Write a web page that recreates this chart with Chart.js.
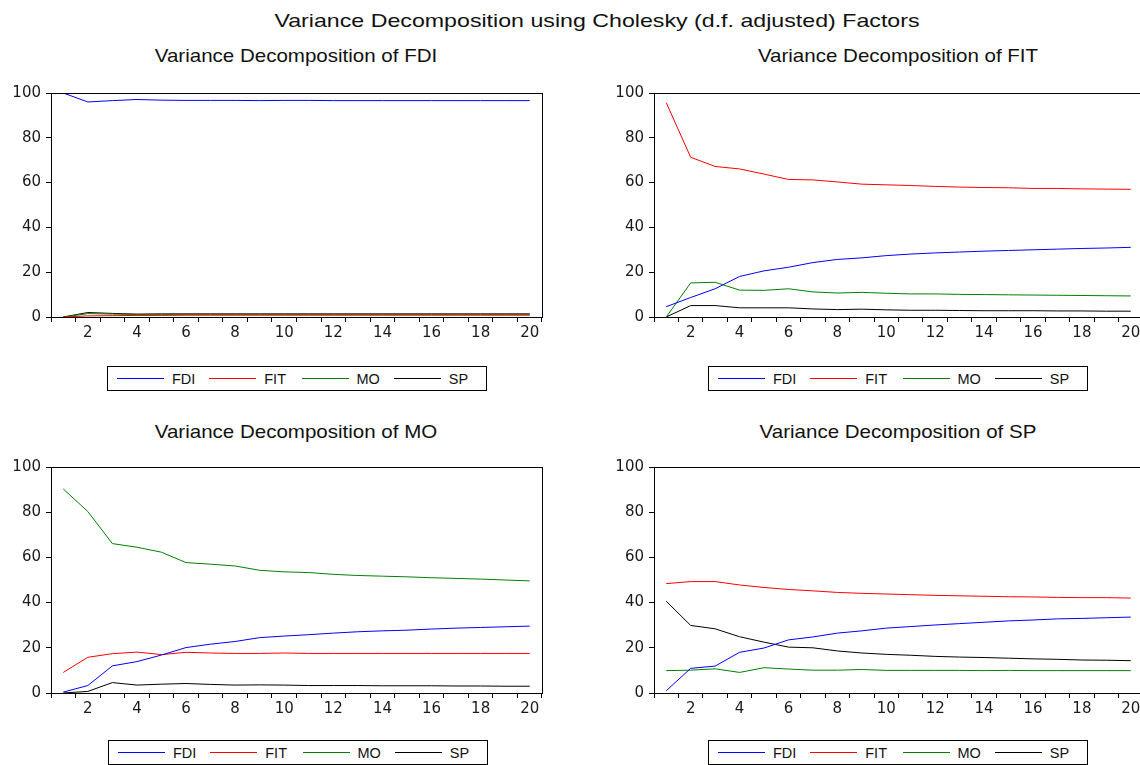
<!DOCTYPE html>
<html>
<head>
<meta charset="utf-8">
<script src="https://cdn.jsdelivr.net/npm/chart.js@4.4.1/dist/chart.umd.min.js"></script>
<style>
  html, body { margin: 0; padding: 0; background: #fff; }
  body { width: 1140px; height: 765px; position: relative; overflow: hidden; font-family: "Liberation Sans", Arial, sans-serif; color: #111; }
  .title { position: absolute; white-space: nowrap; line-height: 1; }
  .main { font-size: 19px; top: 11px; left: 597px; transform: translateX(-50%) scaleX(1.22); }
  .sub { font-size: 19px; transform: translateX(-50%) scaleX(1.08); }
  canvas { position: absolute; }
  .legend { position: absolute; width: 380px; height: 25px; border: 1px solid #000; box-sizing: border-box; display: flex; align-items: center; padding-left: 9px; font-size: 14.5px; }
  .legend .item { display: flex; align-items: center; width: 94px; }
  .legend .swatch { width: 47px; height: 0; border-top: 1px solid; margin-right: 8px; }
</style>
</head>
<body>
<div class="title main">Variance Decomposition using Cholesky (d.f. adjusted) Factors</div>
<div class="title sub" style="left:296px; top:46px;">Variance Decomposition of FDI</div>
<div class="title sub" style="left:898px; top:46px;">Variance Decomposition of FIT</div>
<div class="title sub" style="left:296px; top:422px;">Variance Decomposition of MO</div>
<div class="title sub" style="left:898px; top:422px;">Variance Decomposition of SP</div>

<canvas id="chartFDI" width="560" height="270" style="left:0px; top:79px;"></canvas>
<canvas id="chartFIT" width="540" height="270" style="left:604px; top:79px;"></canvas>
<canvas id="chartMO" width="560" height="272" style="left:0px; top:453px;"></canvas>
<canvas id="chartSP" width="540" height="272" style="left:604px; top:453px;"></canvas>

<div class="legend" id="legFDI" style="left:107px; top:366px;"></div>
<div class="legend" id="legFIT" style="left:708px; top:366px;"></div>
<div class="legend" id="legMO" style="left:108px; top:740px;"></div>
<div class="legend" id="legSP" style="left:708px; top:740px;"></div>

<script>
// periods 1..20
const periods = [1, 2, 3, 4, 5, 6, 7, 8, 9, 10, 11, 12, 13, 14, 15, 16, 17, 18, 19, 20];
const seriesNames = ["FDI", "FIT", "MO", "SP"];
const seriesColors = ["#0000ff", "#ff0000", "#008000", "#000000"];
const yTicks = [0, 20, 40, 60, 80, 100];

// Variance decomposition of FDI
const fdiByFDI = [100, 96.0, 96.6, 97.1, 96.8, 96.7, 96.7, 96.7, 96.6, 96.7, 96.7, 96.6, 96.6, 96.6, 96.6, 96.6, 96.6, 96.6, 96.6, 96.6];
const fdiByFIT = [0, 0.5, 0.6, 0.7, 0.7, 0.8, 0.8, 0.8, 0.8, 0.8, 0.8, 0.8, 0.8, 0.8, 0.8, 0.8, 0.8, 0.8, 0.8, 0.8];
const fdiByMO = [0, 1.5, 1.3, 1.1, 1.2, 1.2, 1.2, 1.2, 1.2, 1.2, 1.2, 1.2, 1.2, 1.2, 1.2, 1.2, 1.2, 1.2, 1.2, 1.2];
const fdiBySP = [0, 2.0, 1.6, 1.3, 1.4, 1.4, 1.4, 1.4, 1.4, 1.4, 1.4, 1.4, 1.4, 1.4, 1.4, 1.4, 1.4, 1.4, 1.4, 1.4];

// Variance decomposition of FIT
const fitByFDI = [4.6, 8.7, 12.6, 18.1, 20.6, 22.2, 24.3, 25.7, 26.4, 27.4, 28.1, 28.6, 29.0, 29.4, 29.7, 30.0, 30.3, 30.6, 30.8, 31.1];
const fitByFIT = [95.7, 71.3, 67.2, 66.1, 63.8, 61.4, 61.2, 60.3, 59.3, 59.0, 58.7, 58.3, 58.0, 57.8, 57.7, 57.4, 57.4, 57.2, 57.1, 57.0];
const fitByMO = [0, 15.2, 15.5, 12.0, 11.9, 12.6, 11.2, 10.7, 11.0, 10.6, 10.3, 10.3, 10.1, 10.0, 9.9, 9.8, 9.7, 9.6, 9.5, 9.4];
const fitBySP = [0, 5.1, 5.1, 4.1, 4.1, 4.1, 3.6, 3.3, 3.5, 3.2, 3.0, 3.0, 2.9, 2.8, 2.8, 2.8, 2.7, 2.7, 2.6, 2.6];

// Variance decomposition of MO
const moByFDI = [0.4, 3.3, 12.0, 13.9, 16.8, 20.1, 21.6, 22.8, 24.5, 25.2, 25.8, 26.5, 27.1, 27.5, 27.8, 28.3, 28.7, 29.0, 29.3, 29.6];
const moByFIT = [9.1, 15.8, 17.4, 18.1, 17.0, 18.0, 17.7, 17.5, 17.5, 17.7, 17.5, 17.5, 17.5, 17.5, 17.5, 17.5, 17.5, 17.5, 17.5, 17.5];
const moByMO = [90.3, 80.3, 66.1, 64.5, 62.3, 57.7, 57.0, 56.2, 54.3, 53.6, 53.3, 52.5, 52.0, 51.7, 51.4, 51.0, 50.7, 50.4, 50.0, 49.6];
const moBySP = [0, 0.7, 4.6, 3.5, 3.9, 4.2, 3.8, 3.5, 3.6, 3.5, 3.3, 3.3, 3.3, 3.2, 3.2, 3.2, 3.1, 3.1, 3.0, 3.0];

// Variance decomposition of SP
const spByFDI = [1.0, 10.9, 11.9, 18.0, 19.9, 23.5, 24.8, 26.5, 27.5, 28.7, 29.4, 30.1, 30.7, 31.3, 31.9, 32.3, 32.8, 33.0, 33.3, 33.6];
const spByFIT = [48.4, 49.3, 49.3, 47.8, 46.7, 45.8, 45.2, 44.5, 44.1, 43.8, 43.5, 43.2, 43.0, 42.8, 42.6, 42.5, 42.3, 42.2, 42.2, 42.0];
const spByMO = [9.9, 10.1, 10.7, 9.1, 11.2, 10.6, 10.1, 10.1, 10.4, 10.0, 10.0, 10.0, 10.0, 9.9, 10.0, 9.9, 9.9, 9.9, 9.9, 9.9];
const spBySP = [40.6, 29.9, 28.4, 24.9, 22.5, 20.3, 20.0, 18.6, 17.7, 17.1, 16.7, 16.2, 15.9, 15.7, 15.4, 15.1, 14.9, 14.6, 14.5, 14.3];

// box round the plot area (top and right sides)
const frame = {
  id: "frame",
  afterDraw(chart) {
    const a = chart.chartArea;
    const ctx = chart.ctx;
    ctx.save();
    ctx.strokeStyle = "#000";
    ctx.lineWidth = 1;
    ctx.strokeRect(Math.round(a.left) + 0.5, Math.round(a.top) + 0.5, Math.round(a.right - a.left), Math.round(a.bottom - a.top));
    ctx.restore();
  }
};

const tickFont = { family: "DejaVu Sans", size: 15 };

function makePanel(id, legendId, values, yWidth, padRight) {
  const ctx = document.getElementById(id).getContext("2d");
  new Chart(ctx, {
    type: "line",
    data: {
      labels: periods,
      datasets: seriesNames.map((name, i) => ({
        label: name,
        data: values[i],
        borderColor: seriesColors[i],
        borderWidth: 1,
        pointRadius: 0,
        tension: 0,
        fill: false
      }))
    },
    options: {
      responsive: false,
      animation: false,
      layout: { padding: { top: 11, right: padRight, left: 0, bottom: 0 } },
      plugins: { legend: { display: false }, tooltip: { enabled: false } },
      scales: {
        x: {
          type: "category",
          offset: true,
          afterFit: (scale) => { scale.height = 32; },
          grid: { offset: true, drawOnChartArea: false, tickLength: 5, color: "#000" },
          border: { color: "#000" },
          ticks: {
            autoSkip: false,
            maxRotation: 0,
            padding: 2,
            color: "#1a1a1a",
            font: tickFont,
            callback: (v, i) => (periods[i] % 2 === 0 ? periods[i] : "")
          }
        },
        y: {
          min: 0,
          max: 100,
          afterFit: (scale) => { scale.width = yWidth; },
          afterBuildTicks: (scale) => { scale.ticks = yTicks.map(v => ({ value: v })); },
          grid: { drawOnChartArea: false, tickLength: 5, color: "#000" },
          border: { color: "#000" },
          ticks: {
            padding: 5,
            color: "#1a1a1a",
            font: tickFont
          }
        }
      }
    },
    plugins: [frame]
  });

  const leg = document.getElementById(legendId);
  seriesNames.forEach((name, i) => {
    const item = document.createElement("div");
    item.className = "item";
    item.innerHTML = `<span class="swatch" style="border-color:${seriesColors[i]}"></span><span>${name}</span>`;
    leg.appendChild(item);
  });
}

makePanel("chartFDI", "legFDI", [fdiByFDI, fdiByFIT, fdiByMO, fdiBySP], 51, 18);
makePanel("chartFIT", "legFIT", [fitByFDI, fitByFIT, fitByMO, fitBySP], 50, 1);
makePanel("chartMO", "legMO", [moByFDI, moByFIT, moByMO, moBySP], 51, 18);
makePanel("chartSP", "legSP", [spByFDI, spByFIT, spByMO, spBySP], 50, 1);
</script>
</body>
</html>
